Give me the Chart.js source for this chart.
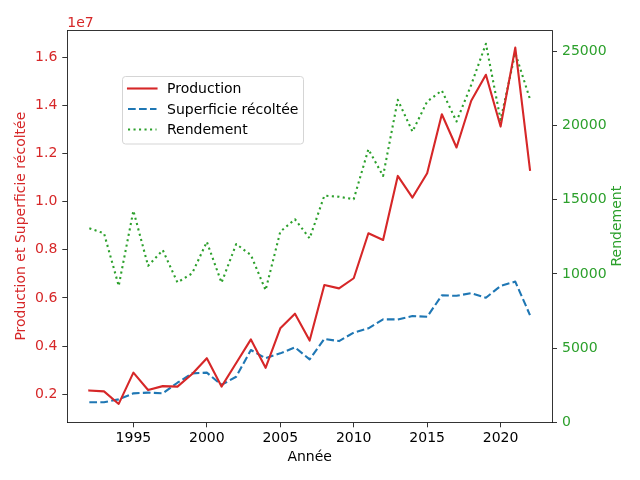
<!DOCTYPE html>
<html>
<head>
<meta charset="utf-8">
<script src="https://cdn.jsdelivr.net/npm/chart.js@4"></script>
<style>html,body{margin:0;padding:0;background:#fff;}canvas{display:block;}</style>
</head>
<body>
<canvas id="c" width="640" height="480"></canvas>
<script>
const years = [1992,1993,1994,1995,1996,1997,1998,1999,2000,2001,2002,2003,2004,2005,2006,2007,2008,2009,2010,2011,2012,2013,2014,2015,2016,2017,2018,2019,2020,2021,2022];
const production = [2.16e6,2.12e6,1.60e6,2.90e6,2.18e6,2.34e6,2.32e6,2.84e6,3.50e6,2.32e6,3.30e6,4.28e6,3.10e6,4.74e6,5.35e6,4.23e6,6.54e6,6.40e6,6.82e6,8.69e6,8.41e6,11.07e6,10.17e6,11.18e6,13.63e6,12.25e6,14.19e6,15.27e6,13.12e6,16.40e6,11.32e6];
const superficie = [1.67e6,1.67e6,1.79e6,2.04e6,2.07e6,2.04e6,2.48e6,2.87e6,2.90e6,2.39e6,2.73e6,3.84e6,3.50e6,3.70e6,3.95e6,3.45e6,4.30e6,4.21e6,4.56e6,4.74e6,5.11e6,5.11e6,5.25e6,5.22e6,6.11e6,6.09e6,6.20e6,6.01e6,6.50e6,6.68e6,5.29e6];
const rendement = [13080,12740,9200,14270,10550,11610,9430,10040,12170,9410,12020,11280,8910,12850,13690,12400,15280,15210,15040,18410,16610,21740,19600,21630,22370,20280,22750,25520,20390,24900,21790];
const xTicks = [1995,2000,2005,2010,2015,2020];
const leftTicks = [2e6,4e6,6e6,8e6,10e6,12e6,14e6,16e6];
const rightTicks = [0,5000,10000,15000,20000,25000];

const RED = '#d62728', BLUE = '#1f77b4', GREEN = '#2ca02c';
const FONT = {family: '"DejaVu Sans"', size: 14};

const pts = arr => years.map((y, i) => ({x: y, y: arr[i]}));

const deco = {
  id: 'deco',
  afterDraw(chart) {
    const {ctx, chartArea: a} = chart;
    ctx.save();
    ctx.strokeStyle = '#000';
    ctx.lineWidth = 0.8;
    ctx.beginPath();
    ctx.moveTo(a.left, a.top + 0.5);
    ctx.lineTo(a.right, a.top + 0.5);
    ctx.stroke();
    ctx.font = '14px "DejaVu Sans"';
    ctx.fillStyle = RED;
    ctx.textAlign = 'left';
    ctx.textBaseline = 'alphabetic';
    ctx.fillText('1e7', a.left, a.top - 3.5);
    // right axis title, reading bottom to top
    ctx.save();
    ctx.translate(617.5, (a.top + a.bottom) / 2);
    ctx.rotate(-Math.PI / 2);
    ctx.fillStyle = GREEN;
    ctx.textAlign = 'center';
    ctx.textBaseline = 'middle';
    ctx.fillText('Rendement', 0, 0);
    ctx.restore();
    // legend
    const bx = 122.5, by = 76.5, bw = 181, bh = 67.5, r = 3;
    ctx.beginPath();
    ctx.moveTo(bx + r, by);
    ctx.lineTo(bx + bw - r, by);
    ctx.arcTo(bx + bw, by, bx + bw, by + r, r);
    ctx.lineTo(bx + bw, by + bh - r);
    ctx.arcTo(bx + bw, by + bh, bx + bw - r, by + bh, r);
    ctx.lineTo(bx + r, by + bh);
    ctx.arcTo(bx, by + bh, bx, by + bh - r, r);
    ctx.lineTo(bx, by + r);
    ctx.arcTo(bx, by, bx + r, by, r);
    ctx.closePath();
    ctx.fillStyle = 'rgba(255,255,255,0.8)';
    ctx.fill();
    ctx.strokeStyle = '#d5d5d5';
    ctx.lineWidth = 1;
    ctx.stroke();
    const rows = [88.5, 109, 129.5];
    chart.data.datasets.forEach((ds, i) => {
      const y = rows[i];
      ctx.beginPath();
      ctx.strokeStyle = ds.borderColor;
      ctx.lineWidth = ds.borderWidth;
      ctx.setLineDash(ds.borderDash || []);
      ctx.lineCap = ds.borderDash && ds.borderDash.length ? 'butt' : 'square';
      ctx.moveTo(128, y);
      ctx.lineTo(156.5, y);
      ctx.stroke();
      ctx.setLineDash([]);
      ctx.fillStyle = '#000';
      ctx.textBaseline = 'middle';
      ctx.fillText(ds.label, 167, y + 1);
    });
    ctx.restore();
  }
};

new Chart(document.getElementById('c'), {
  type: 'line',
  data: {
    datasets: [
      {label: 'Production', data: pts(production), yAxisID: 'yL', borderColor: RED, borderWidth: 2.1, borderDash: [], pointRadius: 0, tension: 0, borderJoinStyle: 'round', borderCapStyle: 'square'},
      {label: 'Superficie récoltée', data: pts(superficie), yAxisID: 'yL', borderColor: BLUE, borderWidth: 2.1, borderDash: [7.7, 3.3], pointRadius: 0, tension: 0, borderJoinStyle: 'round'},
      {label: 'Rendement', data: pts(rendement), yAxisID: 'yR', borderColor: GREEN, borderWidth: 2.1, borderDash: [2.1, 3.4], pointRadius: 0, tension: 0, borderJoinStyle: 'round'}
    ]
  },
  options: {
    responsive: false,
    animation: false,
    devicePixelRatio: 1,
    layout: {padding: {top: 30, left: 0, right: 0, bottom: 0}},
    plugins: {legend: {display: false}, tooltip: {enabled: false}},
    scales: {
      x: {
        type: 'linear', position: 'bottom', min: 1990.5, max: 2023.5,
        afterFit: s => { s.height = 57.7; },
        afterBuildTicks: s => { s.ticks = xTicks.map(v => ({value: v})); },
        grid: {drawOnChartArea: false, drawTicks: true, tickLength: 5, color: '#000', lineWidth: 0.8},
        border: {display: true, color: '#000', width: 0.8},
        ticks: {color: '#000', font: FONT, padding: 3, maxRotation: 0, callback: v => String(v)},
        title: {display: true, text: 'Année', color: '#000', font: FONT, padding: {top: 0, bottom: 14.6}}
      },
      yL: {
        type: 'linear', position: 'left', min: 0.837e6, max: 17.13e6,
        afterFit: s => { s.width = 67.3; },
        afterBuildTicks: s => { s.ticks = leftTicks.map(v => ({value: v})); },
        grid: {drawOnChartArea: false, drawTicks: true, tickLength: 5, color: '#000', lineWidth: 0.8},
        border: {display: true, color: '#000', width: 0.8},
        ticks: {color: RED, font: FONT, padding: 5, callback: v => (v / 1e7).toFixed(1)},
        title: {display: true, text: 'Production et Superficie récoltée', color: RED, font: FONT, padding: {top: 12.6, bottom: 0}}
      },
      yR: {
        type: 'linear', position: 'right', min: 0, max: 26450,
        afterFit: s => { s.width = 88; },
        afterBuildTicks: s => { s.ticks = rightTicks.map(v => ({value: v})); },
        grid: {drawOnChartArea: false, drawTicks: true, tickLength: 5, color: '#000', lineWidth: 0.8},
        border: {display: true, color: '#000', width: 0.8},
        ticks: {color: GREEN, font: FONT, padding: 5, callback: v => String(v)},
        title: {display: false}
      }
    }
  },
  plugins: [deco]
});
</script>
</body>
</html>
